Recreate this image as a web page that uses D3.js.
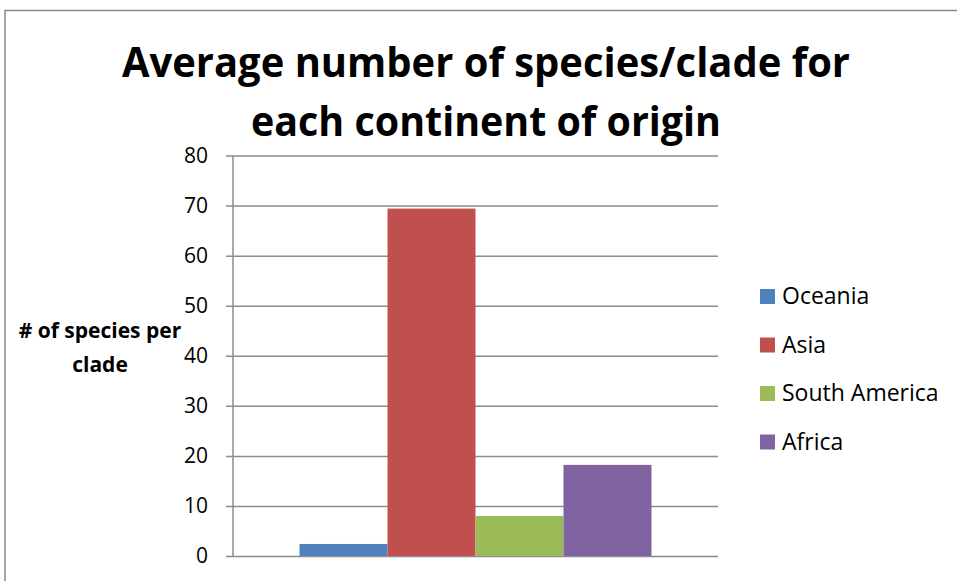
<!DOCTYPE html>
<html>
<head>
<meta charset="utf-8">
<script src="https://cdn.jsdelivr.net/npm/d3@7"></script>
<style>
  body { margin: 0; background: #fff; }
  text { font-family: "Open Sans", "Liberation Sans", sans-serif; }
</style>
</head>
<body>
<div id="graph"></div>
<script>
var titleLines = ["Average number of species/clade for", "each continent of origin"];
var yTitleLines = ["# of species per", "clade"];
var series = ["Oceania", "Asia", "South America", "Africa"];
var values = [2.4, 69.4, 8.0, 18.2];
var colors = ["#4f81bd", "#c0504d", "#9bbb59", "#8064a2"];
var yTicks = [0, 10, 20, 30, 40, 50, 60, 70, 80];

var width = 957, height = 581;
var margin = { top: 155.5, left: 233, bottom: 25, right: 239 };
var chartWidth = width - margin.left - margin.right;
var chartHeight = height - margin.top - margin.bottom;

var svg = d3.select("#graph").append("svg")
  .attr("width", width)
  .attr("height", height);

// outer frame
svg.append("path")
  .attr("d", "M5," + height + "V10.5H" + width)
  .attr("fill", "none")
  .attr("stroke", "#888")
  .attr("stroke-width", 1.5);

var yScale = d3.scaleLinear().domain([0, 80]).range([chartHeight, 0]);
var groupX = d3.scaleBand().domain(["all"]).range([0, chartWidth]).paddingInner(0).paddingOuter(0.189);
var xScale = d3.scaleBand().domain(series).range([groupX("all"), groupX("all") + groupX.bandwidth()]);

var chartLayer = svg.append("g")
  .attr("transform", "translate(" + [margin.left, margin.top] + ")");

// grid + y axis
var yAxis = chartLayer.append("g")
  .call(d3.axisLeft(yScale).tickValues(yTicks).tickSizeInner(-chartWidth).tickSizeOuter(0).tickPadding(25));
yAxis.select(".domain").remove();
yAxis.selectAll(".tick line")
  .attr("x1", -7)
  .attr("stroke", "#8c8c8c")
  .attr("stroke-width", 1.5);
yAxis.selectAll(".tick text")
  .attr("font-size", 21)
  .attr("fill", "#000")
  .style("font-family", "'Open Sans', sans-serif");

chartLayer.append("line")
  .attr("x1", 0).attr("x2", 0)
  .attr("y1", 0).attr("y2", chartHeight)
  .attr("stroke", "#8c8c8c")
  .attr("stroke-width", 1.5);

chartLayer.selectAll(".bar")
  .data(values)
  .enter()
  .append("rect")
  .classed("bar", true)
  .attr("x", function(d, i) { return xScale(series[i]); })
  .attr("width", xScale.bandwidth())
  .attr("y", function(d) { return yScale(d); })
  .attr("height", function(d) { return chartHeight - yScale(d); })
  .attr("fill", function(d, i) { return colors[i]; });

// title
svg.selectAll(".title")
  .data(titleLines)
  .enter()
  .append("text")
  .attr("x", 486)
  .attr("y", function(d, i) { return 77 + i * 59; })
  .attr("text-anchor", "middle")
  .attr("font-size", 41)
  .attr("font-weight", "bold")
  .attr("textLength", function(d, i) { return i == 0 ? 728 : 470; })
  .attr("lengthAdjust", "spacingAndGlyphs")
  .text(function(d) { return d; });

// y axis title
svg.selectAll(".ytitle")
  .data(yTitleLines)
  .enter()
  .append("text")
  .attr("x", 100)
  .attr("y", function(d, i) { return 338 + i * 34; })
  .attr("text-anchor", "middle")
  .attr("font-size", 21)
  .attr("font-weight", "bold")
  .text(function(d) { return d; });

// legend
var legend = svg.selectAll(".legend")
  .data(series)
  .enter()
  .append("g")
  .attr("transform", function(d, i) { return "translate(" + [760, 296 + i * 48.5] + ")"; });

legend.append("rect")
  .attr("x", 0).attr("y", -7)
  .attr("width", 15).attr("height", 15)
  .attr("fill", function(d, i) { return colors[i]; });

legend.append("text")
  .attr("x", 22)
  .attr("y", 8)
  .attr("font-size", 23)
  .text(function(d) { return d; });
</script>
</body>
</html>
